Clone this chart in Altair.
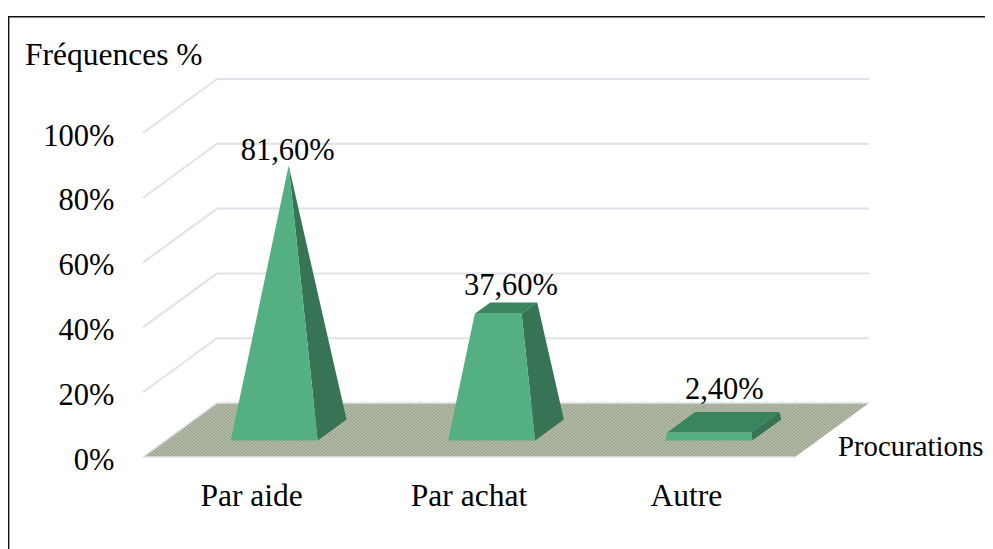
import altair as alt
import pandas as pd

categories = ["Par aide", "Par achat", "Autre"]
values = [81.6, 37.6, 2.4]
value_labels = ["81,60%", "37,60%", "2,40%"]
ticks = [0, 20, 40, 60, 80, 100]
grid_levels = [20, 40, 60, 80, 100]

FONT = "Liberation Serif"
FS_NUM = 30.5
FS_TXT = 31.5
FS_XNAME = 28.8
PX_U = 217.33   # px per category
PX_V = 3.24     # px per percent
DX = 74 / PX_U  # depth shift, category units
DY = 54 / PX_V  # depth shift, percent units
W, H = 977, 541
X0, Y0 = 135, 449  # front-left corner, in chart pixels

xs = alt.Scale(domain=[-X0 / PX_U, (W - X0) / PX_U], range=[0, W], nice=False, zero=False)
ys = alt.Scale(domain=[(Y0 - H) / PX_V, Y0 / PX_V], range=[H, 0], nice=False, zero=False)

y_axis = alt.Axis(
    values=ticks, labelExpr="datum.value + '%'", domain=False, ticks=False, grid=False,
    labelFont=FONT, labelFontSize=FS_NUM, labelColor="black", labelPadding=-106, labelOffset=3,
    labelFontWeight="normal", labelOverlap=False, labelBound=False, labelFlush=False)


def P(u, d, v):
    return (u + d * DX, v + d * DY)


def envelope(poly, pid):
    """Turn a convex polygon into x / y / y2 rows for an area mark."""
    rows = []
    for x in sorted({round(p[0], 6) for p in poly}):
        hits = []
        for i in range(len(poly)):
            a, b = poly[i], poly[(i + 1) % len(poly)]
            lo, hi = sorted([a[0], b[0]])
            if lo - 1e-6 <= x <= hi + 1e-6:
                if abs(a[0] - b[0]) < 1e-6:
                    hits += [a[1], b[1]]
                else:
                    t = (x - a[0]) / (b[0] - a[0])
                    hits.append(a[1] + t * (b[1] - a[1]))
        rows.append({"pid": pid, "x": x, "y": min(hits), "y2": max(hits)})
    return rows


X = lambda f="x": alt.X(f"{f}:Q", scale=xs, axis=None)
Y = lambda f="y": alt.Y(f"{f}:Q", scale=ys, axis=y_axis, title=None)


def rules(rows, color, width):
    return alt.Chart(pd.DataFrame(rows)).mark_rule(color=color, strokeWidth=width).encode(
        x=X("x"), x2="x2:Q", y=Y("y"), y2="y2:Q")


def areas(rows, color):
    return alt.Chart(pd.DataFrame(rows)).mark_area(color=color, opacity=1, interpolate="linear").encode(
        x=X("x"), y=Y("y"), y2="y2:Q", detail="pid:N")


# walls
grid_rows = []
for v in grid_levels:
    a, b, c = P(0, 0, v), P(0, 1, v), P(3, 1, v)
    grid_rows.append({"x": a[0], "y": a[1], "x2": b[0], "y2": b[1]})
    grid_rows.append({"x": b[0], "y": b[1], "x2": c[0], "y2": c[1]})
grid = rules(grid_rows, "#dfe2ea", 2)

# floor
floor_poly = [P(0, 0, 0), P(3, 0, 0), P(3, 1, 0), P(0, 1, 0)]
floor = areas(envelope(floor_poly, "floor"), "#b6bcab")
edge_rows = []
for (a, b) in [(P(0, 0, 0), P(3, 0, 0)), (P(0, 0, 0), P(0, 1, 0)), (P(0, 1, 0), P(3, 1, 0))]:
    edge_rows.append({"x": a[0], "y": a[1], "x2": b[0], "y2": b[1]})
edges = rules(edge_rows, "#dfe2ea", 1.5)

# floor hatch
hatch_rows = []
RUN, STEP = 0.64, 0.0165
c = -RUN
while c < 3:
    d0, d1 = 1.0, 0.0
    if c < 0:
        d0 = 1 - (-c) / RUN
    if c + RUN > 3:
        d1 = 1 - (3 - c) / RUN
    a = P(c + RUN * (1 - d0), d0, 0)
    b = P(c + RUN * (1 - d1), d1, 0)
    hatch_rows.append({"x": a[0], "y": a[1], "x2": b[0], "y2": b[1]})
    c += STEP
hatch = rules(hatch_rows, "#8f987f", 0.9)

# pyramids, cut at each value, all reaching their tip at the largest value
HW, HD = 0.2, 0.195
top_value = max(values)
front, side, top = [], [], []
for i, v in enumerate(values):
    u = i + 0.5
    s = 1 - v / top_value
    d0, d1 = 0.5 - HD, 0.5 + HD
    td0, td1 = 0.5 - HD * s, 0.5 + HD * s
    uL, uR = u - HW * s, u + HW * s
    front += envelope([P(u - HW, d0, 0), P(u + HW, d0, 0), P(uR, td0, v), P(uL, td0, v)], f"f{i}")
    side += envelope([P(u + HW, d0, 0), P(u + HW, d1, 0), P(uR, td1, v), P(uR, td0, v)], f"s{i}")
    if s > 0:
        top += envelope([P(uL, td0, v), P(uR, td0, v), P(uR, td1, v), P(uL, td1, v)], f"t{i}")

layers = [grid, floor, hatch, edges,
          areas(side, "#367455"), areas(top, "#3a8560"), areas(front, "#54b082")]

# value labels
label_offsets = [(-1, -6), (5, -13), (1, -23)]
for i, (v, t) in enumerate(zip(values, value_labels)):
    px = P(i + 0.5, 0.5, v)
    layers.append(alt.Chart(pd.DataFrame([{"x": px[0], "y": px[1], "t": t}])).mark_text(
        font=FONT, fontSize=FS_NUM, color="black", align="center", baseline="alphabetic",
        dx=label_offsets[i][0], dy=label_offsets[i][1]).encode(x=X("x"), y=Y("y"), text="t:N"))

# category labels
cat_df = pd.DataFrame({"x": [i + 0.5 for i in range(3)], "t": categories})
layers.append(alt.Chart(cat_df).mark_text(
    font=FONT, fontSize=FS_TXT, color="black", align="center", baseline="alphabetic").encode(
    x=X("x"), y=alt.value(498), text="t:N"))

# axis names
for name, px, py, fs in [("Fréquences %", 17, 57, FS_TXT), ("Procurations", 830, 448, FS_XNAME)]:
    layers.append(alt.Chart(pd.DataFrame([{"t": name}])).mark_text(
        font=FONT, fontSize=fs, color="black", align="left", baseline="alphabetic").encode(
        x=alt.value(px), y=alt.value(py), text="t:N"))

# frame
layers.append(alt.Chart(pd.DataFrame([{"a": 1}])).mark_rule(color="#111111", strokeWidth=1.4).encode(
    x=alt.value(0.7), y=alt.value(8.8), y2=alt.value(H)))
layers.append(alt.Chart(pd.DataFrame([{"a": 1}])).mark_rule(color="#111111", strokeWidth=1.4).encode(
    x=alt.value(0), x2=alt.value(W), y=alt.value(8.8)))

chart = alt.layer(*layers).properties(
    width=W, height=H, padding=0, autosize=alt.AutoSizeParams(type="none"),
    background="white"
).configure_view(stroke=None)

chart.save("out.html", embed_options={"renderer": "svg", "actions": False})
